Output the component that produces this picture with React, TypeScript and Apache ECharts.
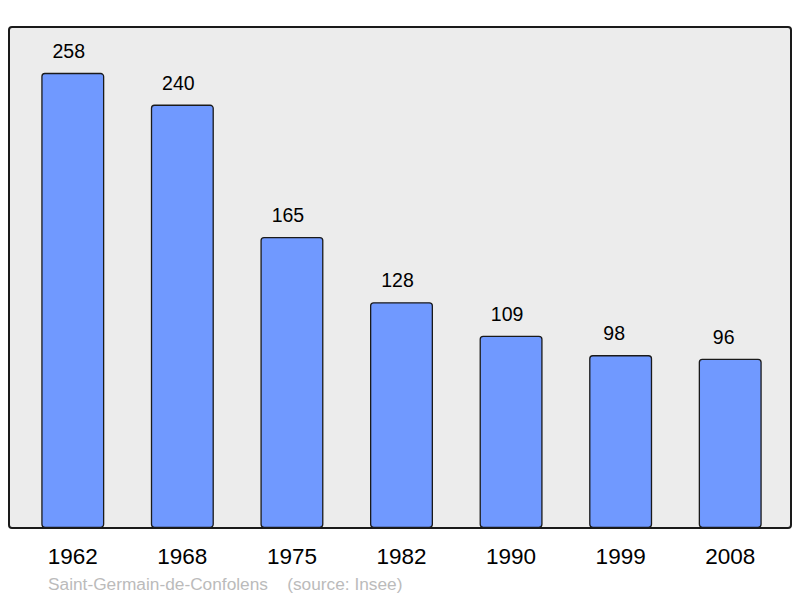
import React, { useEffect, useRef } from "react";
import * as echarts from "echarts";

const years = ["1962", "1968", "1975", "1982", "1990", "1999", "2008"];
const population = [258, 240, 165, 128, 109, 98, 96];
const footerText = "Saint-Germain-de-Confolens    (source: Insee)";

export default function App() {
  const ref = useRef<HTMLDivElement>(null);
  useEffect(() => {
    if (!ref.current) return;
    const chart = echarts.init(ref.current, null, { renderer: "svg" });
    const data = population.map((v) => ({
      value: v,
      label: { offset: [String(v).length >= 3 ? -4 : -6.5, 0] },
    }));
    chart.setOption({
      animation: false,
      textStyle: { fontFamily: "Liberation Sans, Arial, sans-serif" },
      graphic: [
        {
          type: "rect",
          z: -10,
          shape: { x: 9, y: 27, width: 782, height: 501, r: 3 },
          style: { fill: "#ececec", stroke: "#1a1a1a", lineWidth: 2 },
        },
        {
          type: "text",
          left: 48,
          top: 575,
          style: {
            text: footerText,
            fill: "#bbbbbb",
            fontSize: 17.3,
            fontFamily: "Liberation Sans, Arial, sans-serif",
          },
        },
      ],
      grid: { left: 18, right: 15, top: 27, bottom: 70, containLabel: false },
      xAxis: {
        type: "category",
        data: years,
        axisLine: { show: false },
        axisTick: { show: false },
        axisLabel: { color: "#000", fontSize: 22.5, margin: 17 },
      },
      yAxis: {
        type: "value",
        min: 0,
        max: 284,
        show: false,
        splitLine: { show: false },
      },
      series: [
        {
          type: "bar",
          data,
          barWidth: 63,
          itemStyle: {
            color: "#7099ff",
            borderColor: "#1a1a1a",
            borderWidth: 1.3,
            borderRadius: 3,
          },
          label: {
            show: true,
            position: "top",
            distance: 12,
            color: "#000",
            fontSize: 19.5,
          },
        },
      ],
    });
    return () => chart.dispose();
  }, []);
  return <div ref={ref} style={{ width: 800, height: 598, position: "absolute", left: 0, top: 0 }} />;
}
